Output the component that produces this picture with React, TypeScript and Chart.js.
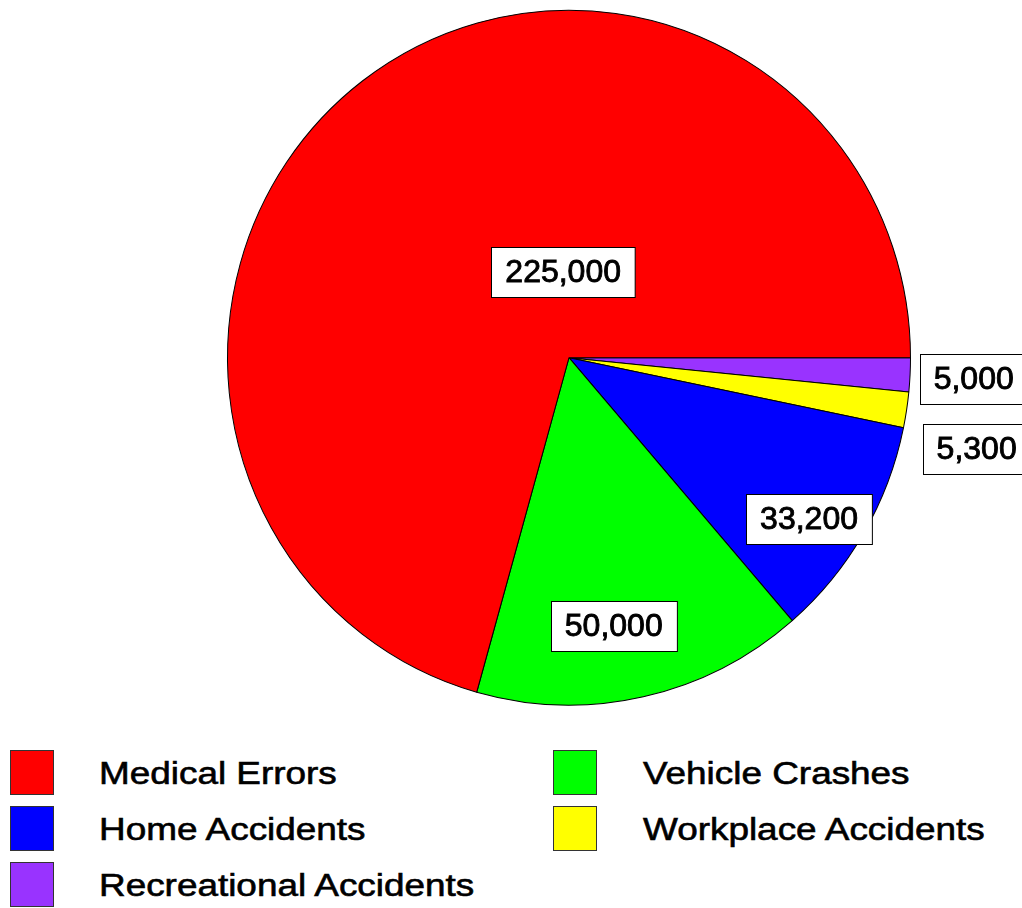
import React, { useEffect, useRef } from "react";
import { Chart, registerables } from "chart.js";

Chart.register(...registerables);

const categories = [
  "Medical Errors",
  "Vehicle Crashes",
  "Home Accidents",
  "Workplace Accidents",
  "Recreational Accidents",
];
const deaths = [225000, 50000, 33200, 5300, 5000];
const valueLabels = ["225,000", "50,000", "33,200", "5,300", "5,000"];
const colors = ["#ff0000", "#00ff00", "#0000ff", "#ffff00", "#9933ff"];
// label placement: fraction of radius and angular shift (deg) from slice mid-angle
const labelRadius = [0.247, 0.783, 0.842, 1.2225, 1.1866];
const labelShift = [33.2, 2.94, 3.0, 3.81, 0.13];

const FONT = '"Liberation Sans", Arial, Helvetica, sans-serif';
const SY = 348 / 342;

export default function App() {
  const canvasRef = useRef<HTMLCanvasElement | null>(null);

  useEffect(() => {
    const canvas = canvasRef.current;
    if (!canvas) return;
    const n = categories.length;
    const order = categories.map((_, i) => n - 1 - i);

    const stretchPlugin = {
      id: "stretch",
      beforeDatasetsDraw(chart: any) {
        const arc = chart.getDatasetMeta(0).data[0];
        const ctx = chart.ctx;
        ctx.save();
        ctx.translate(arc.x, arc.y);
        ctx.scale(1, SY);
        ctx.translate(-arc.x, -arc.y);
      },
      afterDatasetsDraw(chart: any) {
        chart.ctx.restore();
      },
    };

    const labelPlugin = {
      id: "valueBoxes",
      afterDraw(chart: any) {
        const ctx = chart.ctx;
        const meta = chart.getDatasetMeta(0);
        ctx.save();
        ctx.font = `32px ${FONT}`;
        ctx.textAlign = "center";
        ctx.textBaseline = "middle";
        meta.data.forEach((arc: any, j: number) => {
          const i = order[j];
          const mid = (arc.startAngle + arc.endAngle) / 2 + (labelShift[i] * Math.PI) / 180;
          const r = arc.outerRadius * labelRadius[i];
          const cx = arc.x + Math.cos(mid) * r;
          const cy = arc.y + Math.sin(mid) * r * SY;
          const text = valueLabels[i];
          const w = ctx.measureText(text).width + 28;
          const h = 50;
          const x0 = Math.round(cx - w / 2) + 0.5;
          const y0 = Math.round(cy - h / 2) + 0.5;
          ctx.fillStyle = "#ffffff";
          ctx.fillRect(x0, y0, w, h);
          ctx.strokeStyle = "#000000";
          ctx.lineWidth = 1;
          ctx.strokeRect(x0, y0, w, h);
          ctx.fillStyle = "#000000";
          ctx.fillText(text, cx, cy + 1);
          ctx.lineWidth = 0.9;
          ctx.strokeText(text, cx, cy + 1);
        });
        ctx.restore();
      },
    };

    const chart = new Chart(canvas, {
      type: "pie",
      data: {
        labels: order.map((i) => categories[i]),
        datasets: [
          {
            data: order.map((i) => deaths[i]),
            backgroundColor: order.map((i) => colors[i]),
            borderColor: "#000000",
            borderWidth: 1,
          },
        ],
      },
      options: {
        responsive: false,
        animation: false,
        rotation: 90,
        layout: { padding: { left: 216, right: 100, top: 15.7, bottom: 20.3 } },
        plugins: {
          legend: { display: false },
          tooltip: { enabled: false },
        },
      },
      plugins: [stretchPlugin, labelPlugin],
    } as any);

    return () => chart.destroy();
  }, []);

  return (
    <div
      style={{
        position: "absolute",
        left: 0,
        top: 0,
        width: 1022,
        height: 908,
        background: "#ffffff",
        overflow: "hidden",
        fontFamily: FONT,
      }}
    >
      <canvas
        ref={canvasRef}
        width={1022}
        height={720}
        style={{ position: "absolute", left: 0, top: 0, width: 1022, height: 720 }}
      />
      {categories.map((name, i) => {
        const col = i % 2;
        const row = Math.floor(i / 2);
        const sqLeft = col === 0 ? 10 : 553;
        const txtLeft = col === 0 ? 99 : 643;
        const top = 750 + row * 56;
        return (
          <React.Fragment key={name}>
            <div
              style={{
                position: "absolute",
                left: sqLeft,
                top,
                width: 44,
                height: 45,
                boxSizing: "border-box",
                border: "1px solid #333333",
                background: colors[i],
              }}
            />
            <div
              style={{
                position: "absolute",
                left: txtLeft,
                top: top + 8,
                fontSize: 31,
                lineHeight: "31px",
                whiteSpace: "nowrap",
                color: "#000000",
                WebkitTextStroke: "0.6px #000000",
                transform: "scaleX(1.19)",
                transformOrigin: "left center",
              }}
            >
              {name}
            </div>
          </React.Fragment>
        );
      })}
    </div>
  );
}
